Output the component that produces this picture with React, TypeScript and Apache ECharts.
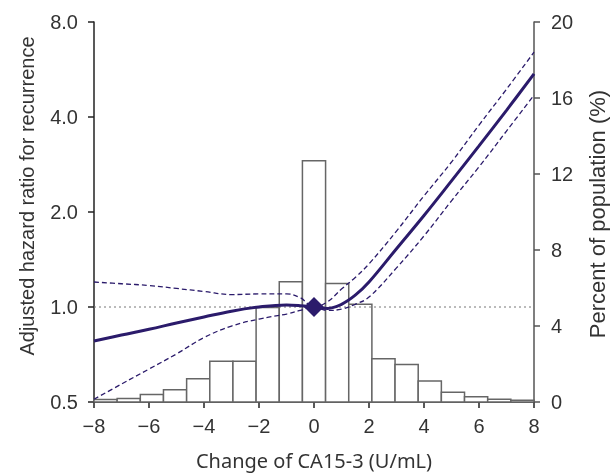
import React, { useEffect, useRef } from "react";
import * as echarts from "echarts";

// Histogram: percent of population per bin (19 equal bins from -8 to 8)
const histMin = -8;
const histMax = 8;
const histPercent = [0.13, 0.18, 0.4, 0.65, 1.23, 2.15, 2.15, 4.97, 6.33, 12.7, 6.24, 5.14, 2.28, 1.98, 1.1, 0.51, 0.28, 0.14, 0.09];

// Hazard ratio curves
const hrX = [-8, -7, -6, -5, -4, -3, -2, -1, -0.5, 0, 0.5, 1, 1.5, 2, 3, 4, 5, 6, 7, 8];
const hrMain = [0.78, 0.815, 0.85, 0.89, 0.93, 0.97, 1.0, 1.015, 1.01, 1.0, 0.99, 1.02, 1.09, 1.2, 1.53, 1.95, 2.51, 3.24, 4.2, 5.48];
const hrUpper = [1.2, 1.185, 1.17, 1.145, 1.12, 1.095, 1.1, 1.1, 1.07, 1.0, 1.04, 1.14, 1.24, 1.37, 1.74, 2.25, 2.88, 3.77, 4.9, 6.42];
const hrLower = [0.51, 0.57, 0.636, 0.71, 0.8, 0.87, 0.916, 0.95, 0.975, 1.0, 0.975, 0.985, 1.02, 1.075, 1.33, 1.68, 2.17, 2.78, 3.61, 4.69];

const refPoint = [0, 1.0];
const xTicks = { min: -8, max: 8, interval: 2 };
const leftTicks = { min: 0.5, max: 8 };
const rightTicks = { min: 0, max: 20, interval: 4 };

const LINE = "#2b1b6b";
const TXT = "#333";
const FONT = "Arial";

export default function App() {
  const ref = useRef<HTMLDivElement>(null);
  useEffect(() => {
    if (!ref.current) return;
    const chart = echarts.init(ref.current, undefined, { renderer: "svg" });
    const binW = (histMax - histMin) / histPercent.length;
    const bins = histPercent.map((p, i) => [histMin + i * binW, histMin + (i + 1) * binW, p]);
    const zip = (ys: number[]) => hrX.map((x, i) => [x, ys[i]]);
    const minus = (v: number) => (v < 0 ? "\u2212" + Math.abs(v) : String(v));

    chart.setOption({
      animation: false,
      textStyle: { fontFamily: FONT },
      grid: { left: 94, right: 80, top: 22, bottom: 71, outerBoundsMode: "none", containLabel: false },
      xAxis: {
        type: "value",
        min: xTicks.min,
        max: xTicks.max,
        interval: xTicks.interval,
        name: "Change of CA15-3 (U/mL)",
        nameLocation: "middle",
        nameGap: 48,
        nameTextStyle: { fontFamily: "Noto Sans", fontSize: 20, color: TXT },
        axisLine: { onZero: false, lineStyle: { color: "#222", width: 1.5 } },
        axisTick: { length: 6, lineStyle: { color: "#222", width: 1.5 } },
        axisLabel: { formatter: minus, fontFamily: FONT, fontSize: 20, color: TXT, margin: 14 },
        splitLine: { show: false },
      },
      yAxis: [
        {
          type: "log",
          logBase: 2,
          min: leftTicks.min,
          max: leftTicks.max,
          name: "Adjusted hazard ratio for recurrence",
          nameLocation: "middle",
          nameGap: 57,
          nameRotate: 90,
          nameTextStyle: { fontFamily: FONT, fontSize: 20, color: TXT, padding: [0, 0, 0, 32] },
          axisLine: { show: true, onZero: false, lineStyle: { color: "#222", width: 1.5 } },
          axisTick: { show: true, length: 6, lineStyle: { color: "#222", width: 1.5 } },
          axisLabel: { formatter: (v: number) => v.toFixed(1), fontFamily: FONT, fontSize: 20, color: TXT, margin: 16 },
          splitLine: { show: false },
        },
        {
          type: "value",
          position: "right",
          min: rightTicks.min,
          max: rightTicks.max,
          interval: rightTicks.interval,
          name: "Percent of population (%)",
          nameLocation: "middle",
          nameGap: 52,
          nameRotate: 90,
          nameTextStyle: { fontFamily: FONT, fontSize: 22, color: TXT, padding: [0, 4, 0, 0] },
          axisLine: { show: true, onZero: false, lineStyle: { color: "#555", width: 1.5 } },
          axisTick: { show: true, length: 6, lineStyle: { color: "#555", width: 1.5 } },
          axisLabel: { fontFamily: FONT, fontSize: 20, color: TXT, margin: 17 },
          splitLine: { show: false },
        },
      ],
      series: [
        {
          type: "custom",
          yAxisIndex: 1,
          z: 1,
          encode: { x: [0, 1], y: 2 },
          data: bins,
          renderItem: (params: any, api: any) => {
            const p0 = api.coord([api.value(0), api.value(2)]);
            const p1 = api.coord([api.value(1), 0]);
            return {
              type: "rect",
              shape: { x: p0[0], y: p0[1], width: p1[0] - p0[0], height: p1[1] - p0[1] },
              style: { fill: "#fff", stroke: "#666", lineWidth: 1.5 },
            };
          },
        },
        {
          type: "line",
          yAxisIndex: 0,
          z: 2,
          data: [[xTicks.min, 1], [xTicks.max, 1]],
          symbol: "none",
          lineStyle: { color: "#777", width: 1, type: [2, 3] },
        },
        {
          type: "line",
          yAxisIndex: 0,
          z: 3,
          smooth: 0.4,
          data: zip(hrUpper),
          symbol: "none",
          lineStyle: { color: LINE, width: 1.3, type: [5, 3] },
        },
        {
          type: "line",
          yAxisIndex: 0,
          z: 3,
          smooth: 0.4,
          data: zip(hrLower),
          symbol: "none",
          lineStyle: { color: LINE, width: 1.3, type: [5, 3] },
        },
        {
          type: "line",
          yAxisIndex: 0,
          z: 4,
          smooth: 0.4,
          data: zip(hrMain),
          symbol: "none",
          lineStyle: { color: LINE, width: 3 },
        },
        {
          type: "scatter",
          yAxisIndex: 0,
          z: 5,
          data: [refPoint],
          symbol: "diamond",
          symbolSize: [20, 20],
          itemStyle: { color: LINE, opacity: 1 },
        },
      ],
    });
    return () => chart.dispose();
  }, []);
  return <div ref={ref} style={{ position: "fixed", left: 0, top: 0, width: 614, height: 473 }} />;
}
